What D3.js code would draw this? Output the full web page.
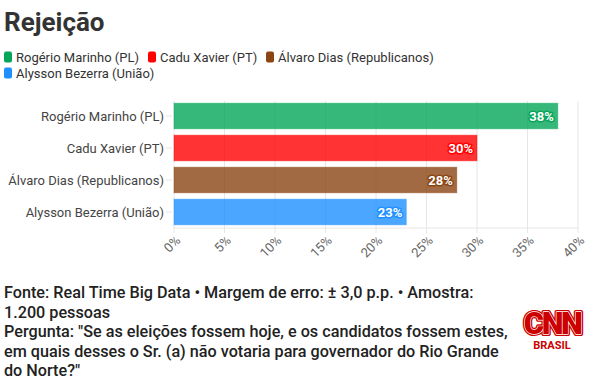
<!DOCTYPE html>
<html>
<head>
<meta charset="utf-8">
<script src="https://cdn.jsdelivr.net/npm/d3@7"></script>
<style>
  body { margin: 0; background: #fff; }
  svg { display: block; font-family: Roboto, "Noto Sans", sans-serif; }
</style>
</head>
<body>
<svg id="chart" width="603" height="379"></svg>
<script>
// data
const candidates = ["Rogério Marinho (PL)", "Cadu Xavier (PT)", "Álvaro Dias (Republicanos)", "Alysson Bezerra (União)"];
const rejection = [38, 30, 28, 23];
const colours = ["#05a65a", "#ff0000", "#8b4513", "#1e90ff"];
const xTicks = [0, 5, 10, 15, 20, 25, 30, 35, 40];
const footerLines = [
  "Fonte: Real Time Big Data • Margem de erro: ± 3,0 p.p. • Amostra:",
  "1.200 pessoas",
  "Pergunta: \"Se as eleições fossem hoje, e os candidatos fossem estes,",
  "em quais desses o Sr. (a) não votaria para governador do Rio Grande",
  "do Norte?\""
];

const data = candidates.map((c, i) => ({ name: c, value: rejection[i], colour: colours[i] }));

const svg = d3.select("#chart");

// title
svg.append("text")
  .attr("x", 4).attr("y", 31)
  .style("font-size", "26px").style("font-weight", 700)
  .style("fill", "#333")
  .text("Rejeição");

// legend (two rows)
const legendPos = [[4, 57], [148, 57], [266, 57], [4, 73]];
const legend = svg.append("g").attr("class", "legend");
data.forEach((d, i) => {
  const g = legend.append("g").attr("transform", `translate(${legendPos[i][0]},${legendPos[i][1]})`);
  g.append("rect")
    .attr("x", 0).attr("y", -5.5).attr("width", 8).attr("height", 11)
    .attr("rx", 2).style("fill", d.colour);
  g.append("text")
    .attr("x", 12).attr("y", 0).attr("dy", "0.35em")
    .style("font-size", "13px").style("fill", "#333")
    .text(d.name);
});

// scales
const x = d3.scaleLinear().domain([0, 40]).range([174, 578]);
const y = d3.scaleBand().domain(candidates).range([100, 228]).paddingInner(0.2).paddingOuter(0.1);

// gridlines
svg.append("g").attr("class", "grid")
  .selectAll("line")
  .data(xTicks)
  .enter()
  .append("line")
  .attr("x1", d => x(d)).attr("x2", d => x(d))
  .attr("y1", 101).attr("y2", 233)
  .style("stroke", "#e6e6e6");

// x axis baseline
svg.append("line")
  .attr("x1", x(0)).attr("x2", x(40))
  .attr("y1", 228).attr("y2", 228)
  .style("stroke", "#e6e6e6");

// x tick labels, rotated
svg.append("g").attr("class", "x-labels")
  .selectAll("text")
  .data(xTicks)
  .enter()
  .append("text")
  .attr("transform", d => `translate(${x(d) + 4},${238}) rotate(-45)`)
  .attr("text-anchor", "end")
  .attr("dy", "0.35em")
  .style("font-size", "13px").style("fill", "#666")
  .text(d => d + "%");

// y axis labels + small ticks
const yAxis = svg.append("g").attr("class", "y-labels");
yAxis.selectAll("line")
  .data(candidates)
  .enter()
  .append("line")
  .attr("x1", 166).attr("x2", 172)
  .attr("y1", d => y(d) + y.bandwidth() / 2).attr("y2", d => y(d) + y.bandwidth() / 2)
  .style("stroke", "#e6e6e6");
yAxis.selectAll("text")
  .data(candidates)
  .enter()
  .append("text")
  .attr("x", 164)
  .attr("y", d => y(d) + y.bandwidth() / 2)
  .attr("dy", "0.35em")
  .attr("text-anchor", "end")
  .style("font-size", "13px").style("fill", "#444")
  .text(d => d);

// bars
svg.append("g").attr("class", "bars")
  .selectAll("rect")
  .data(data)
  .enter()
  .append("rect")
  .attr("x", x(0))
  .attr("y", d => y(d.name))
  .attr("width", d => x(d.value) - x(0))
  .attr("height", y.bandwidth())
  .style("fill", d => d.colour)
  .style("fill-opacity", 0.8)
  .style("stroke", d => d.colour)
  .style("stroke-opacity", 0.4);

// value labels inside bar end
svg.append("g").attr("class", "values")
  .selectAll("text")
  .data(data)
  .enter()
  .append("text")
  .attr("x", d => x(d.value) - 4)
  .attr("y", d => y(d.name) + y.bandwidth() / 2)
  .attr("dy", "0.35em")
  .attr("text-anchor", "end")
  .style("font-size", "13px").style("font-weight", 700)
  .style("fill", "#fff")
  .style("stroke", d => d.colour)
  .style("stroke-width", 3)
  .style("stroke-linejoin", "round")
  .style("paint-order", "stroke")
  .text(d => d.value + "%");

// footer
svg.append("g").attr("class", "footer")
  .selectAll("text")
  .data(footerLines)
  .enter()
  .append("text")
  .attr("x", 4)
  .attr("y", (d, i) => 298 + i * 19.5)
  .style("font-size", "16.2px").style("font-weight", 500)
  .style("fill", "#222")
  .text(d => d);

// CNN Brasil logo: red letters with a white line near the edge
// the word is defined once and drawn in three layers with <use>
svg.append("defs").append("text")
  .attr("id", "cnn-word")
  .attr("x", 0).attr("y", 0)
  .attr("text-anchor", "middle")
  .style("font-size", "31px").style("font-weight", 900)
  .style("letter-spacing", "-2.5px")
  .text("CNN");
const logo = svg.append("g").attr("transform", "translate(552,0)");
[["#cc0000", 4, "#cc0000"], ["#fff", 1.3, "none"], ["none", 0, "#cc0000"]].forEach(l => {
  logo.append("use")
    .attr("href", "#cnn-word")
    .attr("y", 334)
    .style("stroke", l[0])
    .style("stroke-width", l[1])
    .style("stroke-linejoin", "round")
    .style("fill", l[2]);
});
logo.append("text")
  .attr("x", 0).attr("y", 349)
  .attr("text-anchor", "middle")
  .style("font-size", "11px").style("font-weight", 700)
  .style("fill", "#cc0000")
  .text("BRASIL");
</script>
</body>
</html>
